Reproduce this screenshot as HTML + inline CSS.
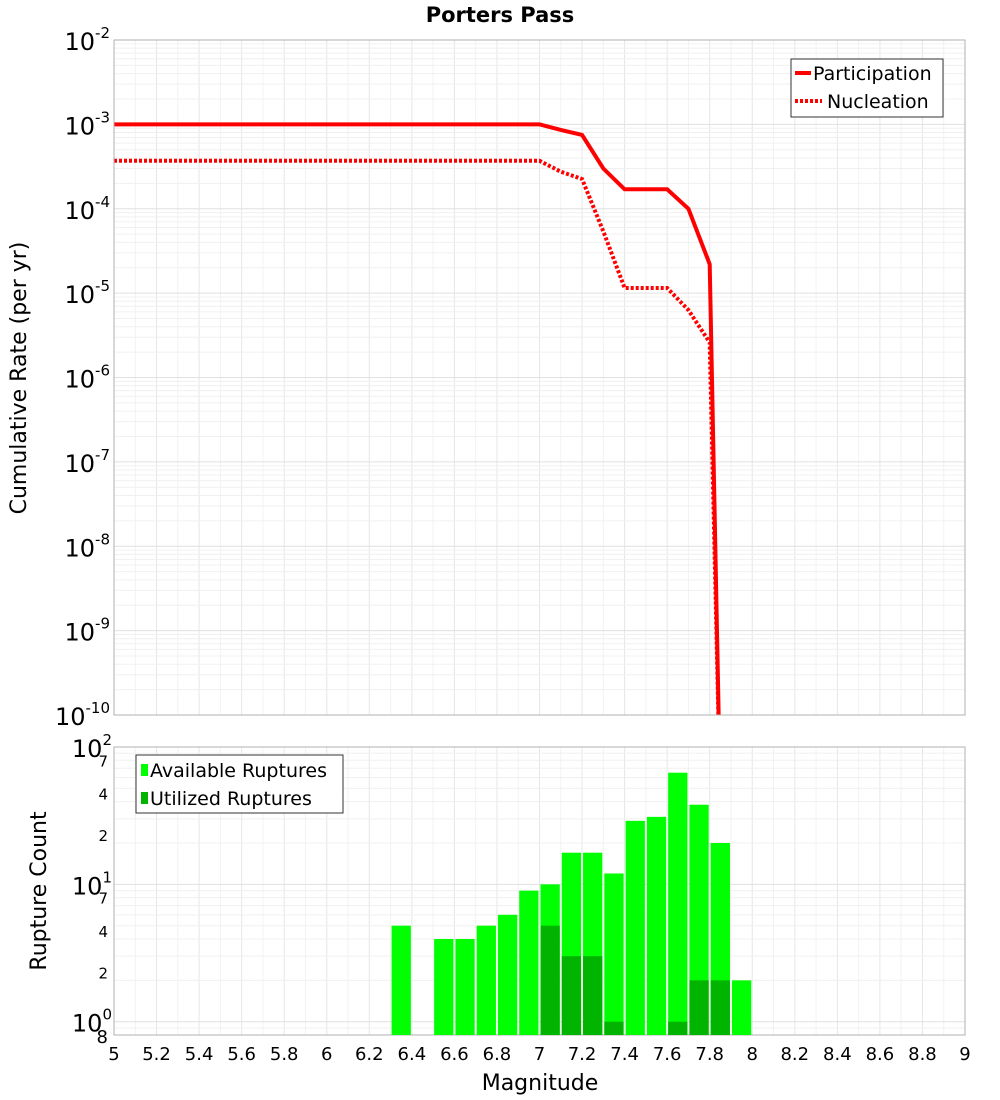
<!DOCTYPE html>
<html><head><meta charset="utf-8"><style>
body{margin:0;background:#fff;font-family:"Liberation Sans","DejaVu Sans",sans-serif;}
svg text{font-family:"DejaVu Sans","Liberation Sans",sans-serif;}
</style></head><body>
<svg id="chart" width="1000" height="1100" xmlns="http://www.w3.org/2000/svg" style="position:absolute;left:0;top:0">
<text x="500" y="22" text-anchor="middle" font-size="21" font-weight="bold">Porters Pass</text>
<g id="gtop"></g><g id="gbot"></g>
<text transform="translate(26,378) rotate(-90)" text-anchor="middle" font-size="22">Cumulative Rate (per yr)</text>
<text transform="translate(46,891) rotate(-90)" text-anchor="middle" font-size="22">Rupture Count</text>
<text x="540" y="1090" text-anchor="middle" font-size="22">Magnitude</text>
</svg>
<script>
const partMag=[5,7.0,7.1,7.2,7.3,7.4,7.5,7.6,7.7,7.8,7.85];
const partRate=[1e-3,1e-3,8.6e-4,7.5e-4,3.0e-4,1.7e-4,1.7e-4,1.7e-4,1.0e-4,2.2e-5,1e-11];
const nuclMag=[5,7.0,7.1,7.2,7.3,7.4,7.5,7.6,7.7,7.8,7.85];
const nuclRate=[3.7e-4,3.7e-4,2.75e-4,2.25e-4,5.4e-5,1.15e-5,1.15e-5,1.15e-5,6.3e-6,2.6e-6,1e-11];
const barMag=[6.3,6.5,6.6,6.7,6.8,6.9,7.0,7.1,7.2,7.3,7.4,7.5,7.6,7.7,7.8,7.9];
const availCount=[5,4,4,5,6,9,10,17,17,12,29,31,65,38,20,2];
const usedMag=[7.0,7.1,7.2,7.3,7.6,7.7,7.8];
const usedCount=[5,3,3,1,1,2,2];
const xTicks=[5,5.2,5.4,5.6,5.8,6,6.2,6.4,6.6,6.8,7,7.2,7.4,7.6,7.8,8,8.2,8.4,8.6,8.8,9];

const NS="http://www.w3.org/2000/svg";
const X0=114,X1=965;
const xs=m=>X0+(m-5)/4*(X1-X0);
const T0=40,T1=715;
const yT=v=>T0+(-2-Math.log10(v))/8*(T1-T0);
const B0=747,B1=1035,bLo=Math.log10(0.8);
const yB=v=>B0+(2-Math.log10(v))/(2-bLo)*(B1-B0);
function el(p,t,a){const e=document.createElementNS(NS,t);for(const k in a)e.setAttribute(k,a[k]);p.appendChild(e);return e;}
const gTop=document.getElementById('gtop'),gBot=document.getElementById('gbot');
el(gTop,'rect',{x:X0,y:T0,width:X1-X0,height:T1-T0,fill:'#fff'});
for(let i=0;i<=40;i++){const xx=xs(5+i*0.1);
 el(gTop,'line',{x1:xx,x2:xx,y1:T0,y2:T1,stroke:i%2?'#f2f2f2':'#e6e6e6'});
 el(gBot,'line',{x1:xx,x2:xx,y1:B0,y2:B1,stroke:i%2?'#f2f2f2':'#e6e6e6'});}
for(let d=-10;d<-2;d++)for(let k=1;k<10;k++){const yy=yT(k*Math.pow(10,d));
 el(gTop,'line',{x1:X0,x2:X1,y1:yy,y2:yy,stroke:k==1?'#e0e0e0':'#f0f0f0'});}
for(let d=-1;d<2;d++)for(let k=1;k<10;k++){const v=k*Math.pow(10,d);if(v<0.8)continue;const yy=yB(v);
 el(gBot,'line',{x1:X0,x2:X1,y1:yy,y2:yy,stroke:k==1?'#e0e0e0':'#f0f0f0'});}
for(let d=-2;d>=-10;d--){const t=el(gTop,'text',{x:110,y:yT(Math.pow(10,d))+10,'text-anchor':'end','font-size':24});
 
 
 t.innerHTML='10<tspan dy="-12" font-size="15">'+d+'</tspan>';}
[[100,'2'],[10,'1'],[1,'0']].forEach(([v,e])=>{const t=el(gBot,'text',{x:112,y:yB(v)+10,'text-anchor':'end','font-size':24});
 
 
 t.innerHTML='10<tspan dy="-12" font-size="15">'+e+'</tspan>';});
[70,40,20,7,4,2].forEach(v=>{const t=el(gBot,'text',{x:108,y:yB(v)-2,'text-anchor':'end','font-size':15});
 
 
 t.textContent=String(v)[0];});
{const t=el(gBot,'text',{x:108,y:B1+8,'text-anchor':'end','font-size':18});
 
 
 t.textContent='8';}
xTicks.forEach(m=>{const t=el(gBot,'text',{x:xs(m),y:1060,'text-anchor':'middle','font-size':18});
 
 
 t.textContent=String(m);});
const clip=el(gTop,'clipPath',{id:'cp'});el(clip,'rect',{x:X0,y:T0,width:X1-X0,height:T1-T0});
function line(ms,vs,dash,name){const p=el(gTop,'polyline',{points:ms.map((m,i)=>xs(m)+','+yT(vs[i])).join(' '),fill:'none',stroke:'#ff0000','stroke-width':4,'clip-path':'url(#cp)'});
 if(dash)p.setAttribute('stroke-dasharray','3,2');
 
 }
line(partMag,partRate,false,'participation-line');
line(nuclMag,nuclRate,true,'nucleation-line');
el(gTop,'rect',{x:X0,y:T0,width:X1-X0,height:T1-T0,fill:'none',stroke:'#b0b0b0'});
el(gBot,'rect',{x:X0,y:B0,width:X1-X0,height:B1-B0,fill:'none',stroke:'#b0b0b0'});
barMag.forEach((m,i)=>{const r=el(gBot,'rect',{x:xs(m)+1,y:yB(availCount[i]),width:xs(m+0.1)-xs(m)-2,height:B1-yB(availCount[i]),fill:'#00ff00'});
 
 });
usedMag.forEach((m,i)=>{const r=el(gBot,'rect',{x:xs(m)+1,y:yB(usedCount[i]),width:xs(m+0.1)-xs(m)-2,height:B1-yB(usedCount[i]),fill:'#00b400'});
 
 });
</script>
<svg style="position:absolute;left:0;top:0" width="1000" height="1100">
<g>
<rect x="791" y="59" width="152" height="58" fill="#fff" stroke="#333"/>
<line x1="795" y1="73" x2="811" y2="73" stroke="#f00" stroke-width="4"/>
<text x="813" y="80" font-size="19" font-family="DejaVu Sans,sans-serif">Participation</text>
<line x1="795" y1="101" x2="822" y2="101" stroke="#f00" stroke-width="4" stroke-dasharray="3,2"/>
<text x="827" y="108" font-size="19" font-family="DejaVu Sans,sans-serif">Nucleation</text>
</g>
<g>
<rect x="136" y="755" width="207" height="58" fill="#fff" stroke="#333"/>
<rect x="141" y="764" width="7" height="12" fill="#00ff00"/>
<text x="150" y="777" font-size="19" font-family="DejaVu Sans,sans-serif">Available Ruptures</text>
<rect x="141" y="792" width="7" height="12" fill="#00b400"/>
<text x="150" y="805" font-size="19" font-family="DejaVu Sans,sans-serif">Utilized Ruptures</text>
</g>
</svg>
</body></html>
